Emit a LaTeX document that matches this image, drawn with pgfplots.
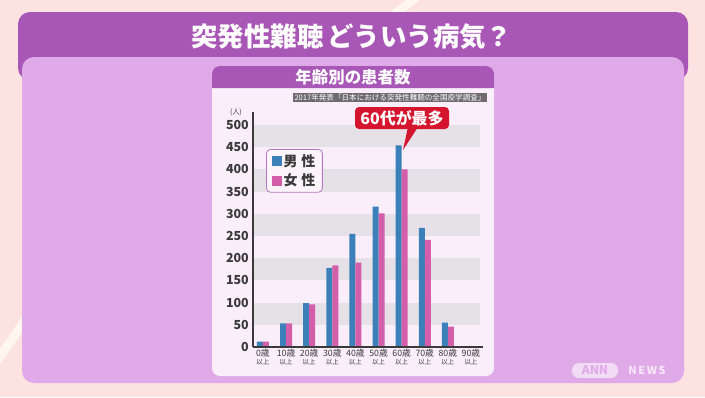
\documentclass[border=0pt]{standalone}
\usepackage{pgfplots}
\pgfplotsset{compat=1.18}
\usepackage{fontspec}
\setmainfont{Noto Sans CJK JP}
\definecolor{bgpink}{HTML}{FDE2E2}
\definecolor{stripec}{HTML}{FFF6F0}
\definecolor{hdr}{HTML}{A957B7}
\definecolor{panel}{HTML}{E0A9E8}
\definecolor{cpanel}{HTML}{F9EEF9}
\definecolor{labgray}{HTML}{6E6A6E}
\definecolor{band}{HTML}{E6E0E7}
\definecolor{barblue}{HTML}{3B80B9}
\definecolor{barpink}{HTML}{D35FAB}
\definecolor{calred}{HTML}{D4152D}
\definecolor{axisc}{HTML}{3A3A3A}
\definecolor{legborder}{HTML}{B476C2}
\definecolor{legfill}{HTML}{FBF4FB}
\definecolor{annpill}{HTML}{F2DCF5}
\definecolor{newsc}{HTML}{F6E6F8}
\begin{document}
\begin{tikzpicture}[x=1bp,y=1bp]
\useasboundingbox (0,0) rectangle (705,-397);
\fill[bgpink] (0,0) rectangle (705,-397);
% decorative stripes
\fill[stripec] (389,-13) -- (403,-13) -- (420,0) -- (406,0) -- cycle;
\draw[stripec, line width=9bp] (-15,-378) -- (60,-270);
% header band and panel
\fill[hdr, rounded corners=12bp] (18,-12) rectangle (688,-80);
\node[white, font=\fontsize{26.5}{26.5}\selectfont\bfseries] at (352,-37) {突発性難聴\kern4bp どういう病気？};
\fill[panel, rounded corners=12bp] (22,-57) rectangle (684,-383);
% chart panel
\fill[cpanel, rounded corners=8bp] (212,-66) rectangle (494,-376);
\fill[hdr] (212,-88) [rounded corners=8bp] -- (212,-66) -- (494,-66) [sharp corners] -- (494,-88) -- cycle;
\node[white, font=\fontsize{16.5}{16.5}\selectfont\bfseries] at (353,-77) {年齢別の患者数};
\node[fill=labgray, text=white, inner xsep=2bp, inner ysep=1bp, font=\fontsize{7.6}{7.6}\selectfont] at (390,-97.5) {2017年発表「日本における突発性難聴の全国疫学調査」};
\begin{axis}[
  at={(253bp,-347bp)}, anchor=south west,
  scale only axis, width=230bp, height=235.4bp,
  xmin=-0.43, xmax=9.52, ymin=0, ymax=530,
  axis on top,
  axis x line*=bottom, axis y line*=left,
  x axis line style={-}, y axis line style={-},
  axis line style={draw=axisc, line width=1.6bp},
  major tick length=0pt,
  ytick={0,50,...,500},
  /pgf/number format/assume math mode=true,
  yticklabel style={font=\fontsize{12.5}{12.5}\selectfont\bfseries, text=axisc, inner sep=2bp, xshift=-2bp},
  xtick={0,...,9},
  xticklabels={{0歳\\{\fontsize{6.5}{6.5}\selectfont 以上}},{10歳\\{\fontsize{6.5}{6.5}\selectfont 以上}},{20歳\\{\fontsize{6.5}{6.5}\selectfont 以上}},{30歳\\{\fontsize{6.5}{6.5}\selectfont 以上}},{40歳\\{\fontsize{6.5}{6.5}\selectfont 以上}},{50歳\\{\fontsize{6.5}{6.5}\selectfont 以上}},{60歳\\{\fontsize{6.5}{6.5}\selectfont 以上}},{70歳\\{\fontsize{6.5}{6.5}\selectfont 以上}},{80歳\\{\fontsize{6.5}{6.5}\selectfont 以上}},{90歳\\{\fontsize{6.5}{6.5}\selectfont 以上}}},
  xticklabel style={align=center, font=\fontsize{8.8}{8}\selectfont, text=axisc, inner sep=1bp, yshift=-1bp},
  ybar=0bp, bar width=6bp,
  legend style={at={(0.057,0.841)}, anchor=north west, draw=legborder, fill=legfill, rounded corners=4bp, line width=0.8bp, font=\fontsize{14}{14}\selectfont\bfseries, text=axisc, inner xsep=5bp, inner ysep=3bp, row sep=2bp, cells={anchor=west}},
  legend image code/.code={\fill[#1, sharp corners] (0bp,-5bp) rectangle (10bp,5bp);},
]
\fill[band] (axis cs:-0.43,50) rectangle (axis cs:9.39,100);
\fill[band] (axis cs:-0.43,150) rectangle (axis cs:9.39,200);
\fill[band] (axis cs:-0.43,250) rectangle (axis cs:9.39,300);
\fill[band] (axis cs:-0.43,350) rectangle (axis cs:9.39,400);
\fill[band] (axis cs:-0.43,450) rectangle (axis cs:9.39,500);
\addplot[fill=barblue, draw=none] coordinates {(0,12) (1,53) (2,99) (3,178) (4,255) (5,316) (6,454) (7,268) (8,55) (9,2)};
\addplot[fill=barpink, draw=none] coordinates {(0,12) (1,53) (2,96) (3,184) (4,190) (5,301) (6,400) (7,241) (8,46) (9,1)};
\legend{男\kern4bp 性,女\kern4bp 性}
\end{axis}
\node[font=\fontsize{7}{7}\selectfont, text=axisc] at (236,-112) {(人)};
% callout
\fill[calred, rounded corners=4bp] (355,-107) rectangle (449,-129);
\fill[calred] (408,-127) -- (403,-150) -- (418,-127) -- cycle;
\node[white, font=\fontsize{16}{16}\selectfont\bfseries] at (402,-118) {60代が最多};
% logo
\node[fill=annpill, rounded corners=7bp, text=panel, font=\fontsize{12}{12}\selectfont\bfseries, inner sep=1bp, minimum width=46bp, minimum height=15bp] at (595,-370.5) {ANN};
\node[text=newsc, font=\fontsize{11}{11}\selectfont\bfseries] at (647,-370.5) {N\kern1.5bp E\kern1.5bp W\kern1.5bp S};
\end{tikzpicture}
\end{document}
